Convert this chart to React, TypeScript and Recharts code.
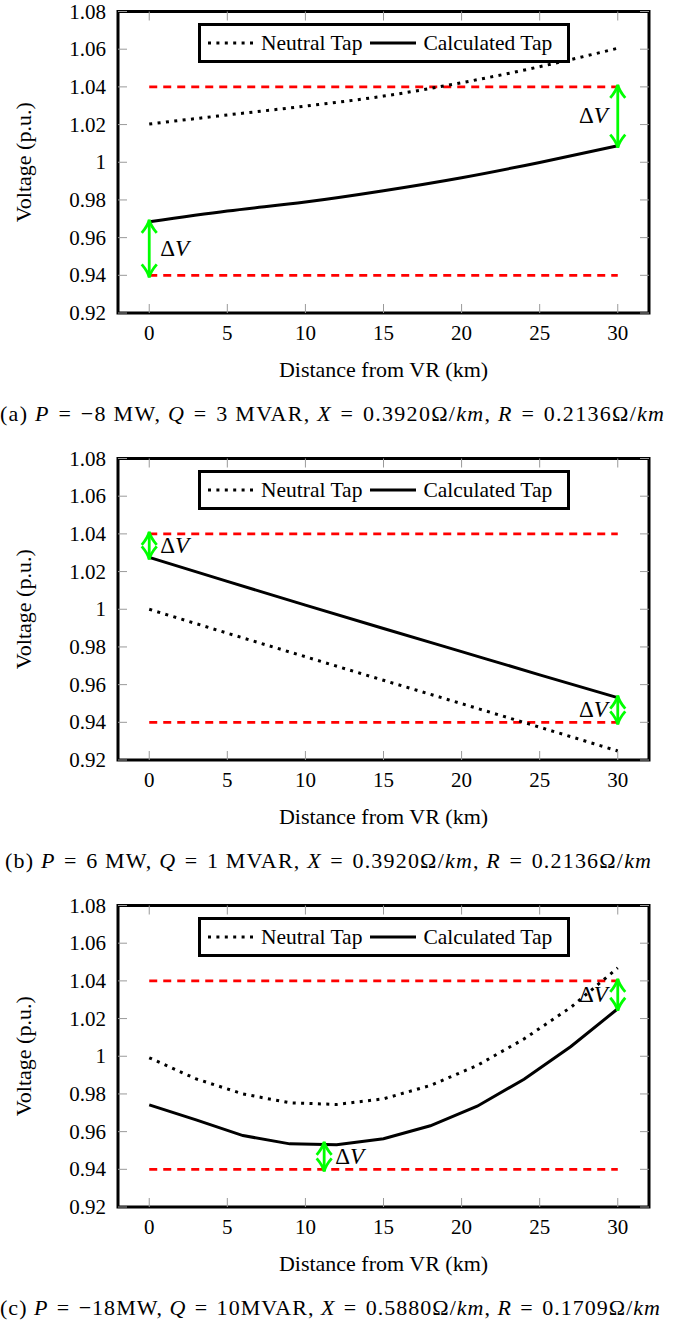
import React from 'react';
import { LineChart, Line, XAxis, YAxis, ReferenceLine, ReferenceArea, Legend } from 'recharts';

const FONT = 'Liberation Serif';

// distance from the voltage regulator (km)
const distanceAB = [0, 5, 10, 15, 20, 25, 30];
const distanceC = [0, 3, 6, 9, 12, 15, 18, 21, 24, 27, 30];

// (a) P = -8 MW, Q = 3 MVAR
const neutralA = [1.0203, 1.0251, 1.0298, 1.0351, 1.0422, 1.0507, 1.0605];
const calculatedA = [0.9684, 0.9741, 0.9789, 0.9849, 0.9918, 0.9999, 1.0088];

// (b) P = 6 MW, Q = 1 MVAR
const neutralB = [1.0, 0.9873, 0.9748, 0.9623, 0.9499, 0.9374, 0.9248];
const calculatedB = [1.0275, 1.0148, 1.0022, 0.9898, 0.9775, 0.9652, 0.9531];

// (c) P = -18 MW, Q = 10 MVAR
const neutralC = [0.9992, 0.988, 0.98, 0.9753, 0.9744, 0.9774, 0.9845, 0.9951, 1.0092, 1.026, 1.0469];
const calculatedC = [0.9742, 0.9662, 0.9579, 0.9535, 0.953, 0.9562, 0.9631, 0.9735, 0.9878, 1.0052, 1.0252];

const xTicks = [0, 5, 10, 15, 20, 25, 30];
const yTicks = [0.92, 0.94, 0.96, 0.98, 1, 1.02, 1.04, 1.06, 1.08];
const xDomain = [-2, 32];
const yDomain = [0.92, 1.08];
const voltageLimits = [0.94, 1.04];
const limitSpan = [0, 30];

// delta V arrows: position, start, end, label side
const deltasA = [
  { x: 0, from: 0.94, to: 0.9684, side: 'right' },
  { x: 30, from: 1.04, to: 1.0088, side: 'left' },
];
const deltasB = [
  { x: 0, from: 1.04, to: 1.0275, side: 'right' },
  { x: 30, from: 0.94, to: 0.9531, side: 'left' },
];
const deltasC = [
  { x: 11.2, from: 0.94, to: 0.9535, side: 'right' },
  { x: 30, from: 1.04, to: 1.0252, side: 'left' },
];

// caption pieces, [text, italic]
const EQ = '\u2004=\u2004';
const captionA: [string, boolean][] = [
  ['(a) ', false], ['P', true], [EQ + '\u22128 MW, ', false], ['Q', true], [EQ + '3 MVAR, ', false],
  ['X', true], [EQ + '0.3920\u03A9/', false], ['km', true], [', ', false], ['R', true], [EQ + '0.2136\u03A9/', false], ['km', true],
];
const captionB: [string, boolean][] = [
  ['(b) ', false], ['P', true], [EQ + '6 MW, ', false], ['Q', true], [EQ + '1 MVAR, ', false],
  ['X', true], [EQ + '0.3920\u03A9/', false], ['km', true], [', ', false], ['R', true], [EQ + '0.2136\u03A9/', false], ['km', true],
];
const captionC: [string, boolean][] = [
  ['(c) ', false], ['P', true], [EQ + '\u221218MW, ', false], ['Q', true], [EQ + '10MVAR, ', false],
  ['X', true], [EQ + '0.5880\u03A9/', false], ['km', true], [', ', false], ['R', true], [EQ + '0.1709\u03A9/', false], ['km', true],
];

const seriesOrder = ['neutral', 'calculated'];
const seriesStyle: Record<string, { dash?: string; width: number }> = {
  neutral: { dash: '3 5.4', width: 3 },
  calculated: { dash: undefined, width: 3 },
};

const W = 678;
const H = 447;
const PLOT_LEFT = 118;
const PLOT_RIGHT = 649;
const PLOT_TOP = 11.5;
const PLOT_BOTTOM = 313;
const TICK = '#9a9a9a';

const XTick = (props: any) => {
  const { x, payload } = props;
  return (
    <g>
      <line x1={x} x2={x} y1={PLOT_BOTTOM} y2={PLOT_BOTTOM - 9} stroke={TICK} strokeWidth={1} />
      <line x1={x} x2={x} y1={PLOT_TOP} y2={PLOT_TOP + 9} stroke={TICK} strokeWidth={1} />
      <text x={x} y={PLOT_BOTTOM + 27} textAnchor="middle" fontSize={21} style={{ fontFamily: FONT }} fill="#000">
        {payload.value}
      </text>
    </g>
  );
};

const YTick = (props: any) => {
  const { y, payload } = props;
  return (
    <g>
      <line x1={PLOT_LEFT} x2={PLOT_LEFT + 9} y1={y} y2={y} stroke={TICK} strokeWidth={1} />
      <line x1={PLOT_RIGHT} x2={PLOT_RIGHT - 9} y1={y} y2={y} stroke={TICK} strokeWidth={1} />
      <text x={PLOT_LEFT - 12} y={y + 7} textAnchor="end" fontSize={21} style={{ fontFamily: FONT }} fill="#000">
        {String(Number(payload.value.toFixed(2)))}
      </text>
    </g>
  );
};

const XLabel = () => (
  <text x={(PLOT_LEFT + PLOT_RIGHT) / 2} y={377} textAnchor="middle" fontSize={22} style={{ fontFamily: FONT }} fill="#000">
    Distance from VR (km)
  </text>
);

const YLabel = () => {
  const cy = (PLOT_TOP + PLOT_BOTTOM) / 2;
  return (
    <text x={31} y={cy} transform={`rotate(-90, 31, ${cy})`} textAnchor="middle" fontSize={22} style={{ fontFamily: FONT }} fill="#000">
      Voltage (p.u.)
    </text>
  );
};

const arrowShape = (side: string) => (p: any) => {
  const { x1, y1, y2 } = p;
  const top = Math.min(y1, y2) - 2;
  const bot = Math.max(y1, y2) + 2;
  const mid = (top + bot) / 2;
  const head = (tip: number, dir: number) =>
    `M${x1 - 7.5},${tip + dir * 13} Q${x1 - 1.5},${tip + dir * 6} ${x1},${tip} Q${x1 + 1.5},${tip + dir * 6} ${x1 + 7.5},${tip + dir * 13}`;
  return (
    <g>
      <line x1={x1} x2={x1} y1={top} y2={bot} stroke="#00ff00" strokeWidth={2.8} />
      <path d={head(top, 1)} fill="none" stroke="#00ff00" strokeWidth={2.8} />
      <path d={head(bot, -1)} fill="none" stroke="#00ff00" strokeWidth={2.8} />
      <text
        x={side === 'right' ? x1 + 11 : x1 - 10}
        y={mid + 7}
        textAnchor={side === 'right' ? 'start' : 'end'}
        fontSize={23}
        style={{ fontFamily: FONT }}
        fill="#000"
      >
        {'\u0394'}
        <tspan fontStyle="italic">V</tspan>
      </text>
    </g>
  );
};

const LegendBox = (props: any) => {
  const payload = [...(props.payload || [])].sort(
    (a: any, b: any) => seriesOrder.indexOf(a.dataKey) - seriesOrder.indexOf(b.dataKey),
  );
  return (
    <div
      style={{
        boxSizing: 'border-box',
        width: 372,
        height: 40,
        border: '3px solid #000',
        background: '#fff',
        display: 'flex',
        alignItems: 'center',
        paddingLeft: 7,
        fontFamily: FONT,
        fontSize: 21.5,
        color: '#000',
        whiteSpace: 'nowrap',
      }}
    >
      {payload.map((entry: any) => {
        const st = seriesStyle[entry.dataKey] || { width: 3 };
        return (
          <span key={entry.value} style={{ display: 'flex', alignItems: 'center' }}>
            <svg width={46} height={10}>
              <line x1={0} x2={46} y1={5} y2={5} stroke="#000" strokeWidth={st.width} strokeDasharray={st.dash} />
            </svg>
            <span style={{ marginLeft: 7, marginRight: 8 }}>{entry.value}</span>
          </span>
        );
      })}
    </div>
  );
};

const VoltagePanel = ({
  distance,
  neutral,
  calculated,
  deltas,
  caption,
  captionCenter,
  captionWidth,
  lineType,
}: {
  distance: number[];
  neutral: number[];
  calculated: number[];
  deltas: { x: number; from: number; to: number; side: string }[];
  caption: [string, boolean][];
  captionCenter: number;
  captionWidth: number;
  lineType: 'monotone' | 'linear';
}) => {
  const rows = distance.map((d, i) => ({ distance: d, neutral: neutral[i], calculated: calculated[i] }));
  return (
    <div style={{ position: 'relative', width: W, height: H }}>
      <LineChart
        width={W}
        height={H}
        data={rows}
        margin={{ top: PLOT_TOP, right: W - PLOT_RIGHT, bottom: H - PLOT_BOTTOM - 30, left: 0 }}
        style={{ fontFamily: FONT }}
      >
        <XAxis
          dataKey="distance"
          type="number"
          domain={xDomain}
          ticks={xTicks}
          interval={0}
          height={30}
          tickLine={false}
          axisLine={false}
          tick={(p: any) => <XTick {...p} />}
          label={() => <XLabel />}
        />
        <YAxis
          type="number"
          domain={yDomain}
          ticks={yTicks}
          interval={0}
          width={PLOT_LEFT}
          tickLine={false}
          axisLine={false}
          tick={(p: any) => <YTick {...p} />}
          label={() => <YLabel />}
        />
        {voltageLimits.map((v) => (
          <ReferenceLine
            key={v}
            segment={[
              { x: limitSpan[0], y: v },
              { x: limitSpan[1], y: v },
            ]}
            stroke="#ff0000"
            strokeWidth={2.8}
            strokeDasharray="8 6"
          />
        ))}
        <Line
          type={lineType}
          dataKey="neutral"
          name="Neutral Tap"
          stroke="#000"
          strokeWidth={seriesStyle.neutral.width}
          strokeDasharray={seriesStyle.neutral.dash}
          dot={false}
          activeDot={false}
          isAnimationActive={false}
        />
        <Line
          type={lineType}
          dataKey="calculated"
          name="Calculated Tap"
          stroke="#000"
          strokeWidth={seriesStyle.calculated.width}
          dot={false}
          activeDot={false}
          isAnimationActive={false}
        />
        {deltas.map((d) => (
          <ReferenceLine
            key={`${d.x}-${d.from}`}
            segment={[
              { x: d.x, y: d.from },
              { x: d.x, y: d.to },
            ]}
            shape={arrowShape(d.side)}
          />
        ))}
        <ReferenceArea
          x1={xDomain[0]}
          x2={xDomain[1]}
          y1={yDomain[0]}
          y2={yDomain[1]}
          fill="none"
          fillOpacity={0}
          stroke="#000"
          strokeWidth={3}
          ifOverflow="visible"
        />
        <Legend
          verticalAlign="middle"
          align="center"
          wrapperStyle={{ top: 23, left: 198, width: 372, height: 40 }}
          content={(p: any) => <LegendBox {...p} />}
        />
      </LineChart>
      <svg width={W} height={H} style={{ position: 'absolute', left: 0, top: 0, pointerEvents: 'none' }}>
        <text
          x={captionCenter}
          y={421}
          textAnchor="middle"
          fontSize={22}
          textLength={captionWidth}
          lengthAdjust="spacing"
          style={{ fontFamily: FONT }}
          fill="#000"
        >
          {caption.map(([t, it], i) => (
            <tspan key={i} fontStyle={it ? 'italic' : 'normal'}>
              {t}
            </tspan>
          ))}
        </text>
      </svg>
    </div>
  );
};

export default function App() {
  return (
    <div
      style={{
        position: 'absolute',
        left: 0,
        top: 0,
        width: W,
        height: 1325,
        overflow: 'hidden',
        background: '#fff',
        fontFamily: FONT,
      }}
    >
      <VoltagePanel distance={distanceAB} neutral={neutralA} calculated={calculatedA} deltas={deltasA} caption={captionA} captionCenter={332} captionWidth={664} lineType="monotone" />
      <VoltagePanel distance={distanceAB} neutral={neutralB} calculated={calculatedB} deltas={deltasB} caption={captionB} captionCenter={328} captionWidth={646} lineType="monotone" />
      <VoltagePanel distance={distanceC} neutral={neutralC} calculated={calculatedC} deltas={deltasC} caption={captionC} captionCenter={330} captionWidth={660} lineType="linear" />
    </div>
  );
}
